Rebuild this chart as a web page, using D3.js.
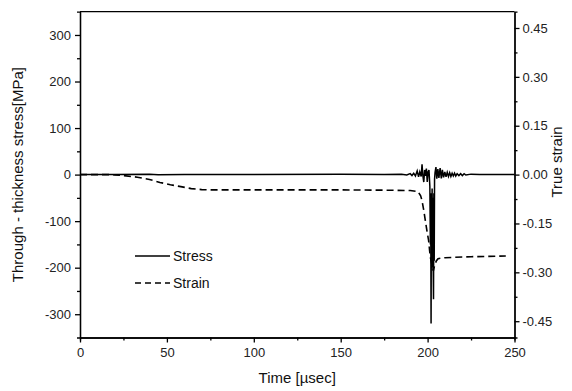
<!doctype html>
<html>
<head>
<meta charset="utf-8">
<title>Stress and strain</title>
<style>
  html, body { margin: 0; padding: 0; background: #fff; }
  svg { display: block; }
  .axis path, .axis line { stroke: #000; stroke-width: 1.3px; }
  .axis text { font-family: "Liberation Sans", Arial, sans-serif; font-size: 13px; fill: #222; }
  .title { font-family: "Liberation Sans", Arial, sans-serif; font-size: 15px; fill: #111; }
</style>
<script src="https://cdnjs.cloudflare.com/ajax/libs/d3/7.8.5/d3.min.js"></script>
</head>
<body>
<script>
// stress [MPa] vs time [usec]
var stressTime = [0, 20, 40, 45, 60, 100, 150, 175, 185, 188, 190, 191, 192, 193, 194, 194.8, 195.5, 196.3, 196.8, 197.3,
  197.8, 198.3, 198.8, 199.3, 199.8, 200.3, 200.8, 201.3, 201.6, 201.8, 202.0, 202.2, 202.4, 202.6, 202.8, 203.0,
  203.2, 203.4, 203.6, 203.8, 204.0, 204.3, 204.8, 205.3, 205.9, 206.5, 207.2, 207.9, 208.5, 209.2, 209.9, 210.6,
  211.3, 212, 212.7, 213.4, 214.1, 214.8, 215.5, 216.2, 217, 218, 219, 220, 221, 222, 225, 230, 250];
var stressValue = [0, 0, 0.5, -0.5, 0, 0, 0.5, 0, 0.5, -1, 2, -2, 3, -3, 8, -5, 6, -4, 22, -3,
  -16, 10, -3, 13, -16, 6, 10, -25, -150, -60, -320, -40, -200, -30, -198, -50, -190,
  -268, -40, -185, -10, 5, 16, -9, 12, -7, 14, -8, 10, -6, 6, -5,
  5, -4, 4, -4, 3, -3, 3, -3, 2, -2, 2, -2, 2, -1, 1, 0, 0];

// true strain vs time [usec]
var strainTime = [0, 18, 20, 25, 33, 40, 46, 52, 58, 64, 70, 75, 100, 150, 180, 190, 194.5, 196, 196.8, 197.8,
  198.7, 199.7, 200.6, 201.2, 201.6, 202.0, 202.8, 203.3, 204, 205, 206, 208, 210, 215, 225, 235, 245];
var strainValue = [0, 0, -0.001, -0.003, -0.008, -0.015, -0.024, -0.031, -0.037, -0.043, -0.046, -0.047, -0.047, -0.047, -0.048, -0.049, -0.052, -0.065, -0.08, -0.11,
  -0.141, -0.175, -0.203, -0.235, -0.254, -0.265, -0.285, -0.295, -0.28, -0.265, -0.258, -0.256, -0.255, -0.254, -0.252, -0.251, -0.25];

var xMajor = [0, 50, 100, 150, 200, 250];
var xMinor = [25, 75, 125, 175, 225];
var yLeftMajor = [-300, -200, -100, 0, 100, 200, 300];
var yLeftMinor = [-250, -150, -50, 50, 150, 250];
var yRightMajor = [-0.45, -0.30, -0.15, 0, 0.15, 0.30, 0.45];
var yRightMinor = [-0.375, -0.225, -0.075, 0.075, 0.225, 0.375];
var legendLabels = ["Stress", "Strain"];

var width = 572, height = 391;
var pLeft = 80, pRight = 514.5, pTop = 11.7, pBottom = 337.5;

// plain hyphen for negatives, like the original plot
function hyph(f) {
  return function (d) { return f(d).replace("\u2212", "-"); };
}

var svg = d3.select("body").append("svg")
  .attr("width", width)
  .attr("height", height);

var x = d3.scaleLinear().domain([0, 250]).range([pLeft, pRight]);
var yL = d3.scaleLinear().domain([-350, 350]).range([pBottom, pTop]);
var yR = d3.scaleLinear().domain([-0.5, 0.5]).range([pBottom, pTop]);

// minor ticks first, then major with labels
svg.append("g").attr("class", "axis")
  .attr("transform", "translate(0," + pBottom + ")")
  .call(d3.axisBottom(x).tickValues(xMinor).tickSize(3).tickFormat(""));
svg.append("g").attr("class", "axis")
  .attr("transform", "translate(0," + pBottom + ")")
  .call(d3.axisBottom(x).tickValues(xMajor).tickSize(5).tickSizeOuter(0).tickPadding(5).tickFormat(d3.format("d")));

svg.append("g").attr("class", "axis")
  .attr("transform", "translate(" + pLeft + ",0)")
  .call(d3.axisLeft(yL).tickValues(yLeftMinor).tickSize(3).tickFormat(""));
svg.append("g").attr("class", "axis")
  .attr("transform", "translate(" + pLeft + ",0)")
  .call(d3.axisLeft(yL).tickValues(yLeftMajor).tickSize(5).tickSizeOuter(0).tickPadding(4).tickFormat(hyph(d3.format("d"))));

svg.append("g").attr("class", "axis")
  .attr("transform", "translate(" + pRight + ",0)")
  .call(d3.axisRight(yR).tickValues(yRightMinor).tickSize(3).tickFormat(""));
svg.append("g").attr("class", "axis")
  .attr("transform", "translate(" + pRight + ",0)")
  .call(d3.axisRight(yR).tickValues(yRightMajor).tickSize(5).tickSizeOuter(0).tickPadding(3).tickFormat(hyph(d3.format(".2f"))));

// frame top
svg.append("line")
  .attr("x1", pLeft).attr("x2", pRight)
  .attr("y1", pTop).attr("y2", pTop)
  .style("stroke", "#000").style("stroke-width", 1.3);

var stressLine = d3.line()
  .x(function (d, i) { return x(stressTime[i]); })
  .y(function (d) { return yL(d); });
var strainLine = d3.line()
  .x(function (d, i) { return x(strainTime[i]); })
  .y(function (d) { return yR(d); });

svg.append("path")
  .attr("d", strainLine(strainValue))
  .style("fill", "none")
  .style("stroke", "#000")
  .style("stroke-width", 1.6)
  .style("stroke-dasharray", "7,4");

svg.append("path")
  .attr("d", stressLine(stressValue))
  .style("fill", "none")
  .style("stroke", "#000")
  .style("stroke-width", 1.5)
  .style("stroke-linejoin", "miter");

// legend
var leg = svg.selectAll(".leg").data(legendLabels).enter().append("g")
  .attr("class", "leg")
  .attr("transform", function (d, i) { return "translate(135," + (256 + i * 27) + ")"; });
leg.append("line")
  .attr("x1", 0).attr("x2", 35)
  .style("stroke", "#000")
  .style("stroke-width", 1.5)
  .style("stroke-dasharray", function (d, i) { return i ? "6,4" : null; });
leg.append("text")
  .attr("x", 38).attr("dy", "0.35em")
  .attr("class", "title")
  .style("font-size", "14px")
  .text(function (d) { return d; });

// axis titles
svg.append("text").attr("class", "title")
  .attr("x", (pLeft + pRight) / 2).attr("y", 383)
  .attr("text-anchor", "middle")
  .text("Time [\u00b5sec]");
svg.append("text").attr("class", "title")
  .attr("transform", "translate(23," + ((pTop + pBottom) / 2) + ") rotate(-90)")
  .attr("text-anchor", "middle")
  .text("Through - thickness stress[MPa]");
svg.append("text").attr("class", "title")
  .attr("transform", "translate(562,162) rotate(-90)")
  .attr("text-anchor", "middle")
  .text("True strain");
</script>
</body>
</html>
